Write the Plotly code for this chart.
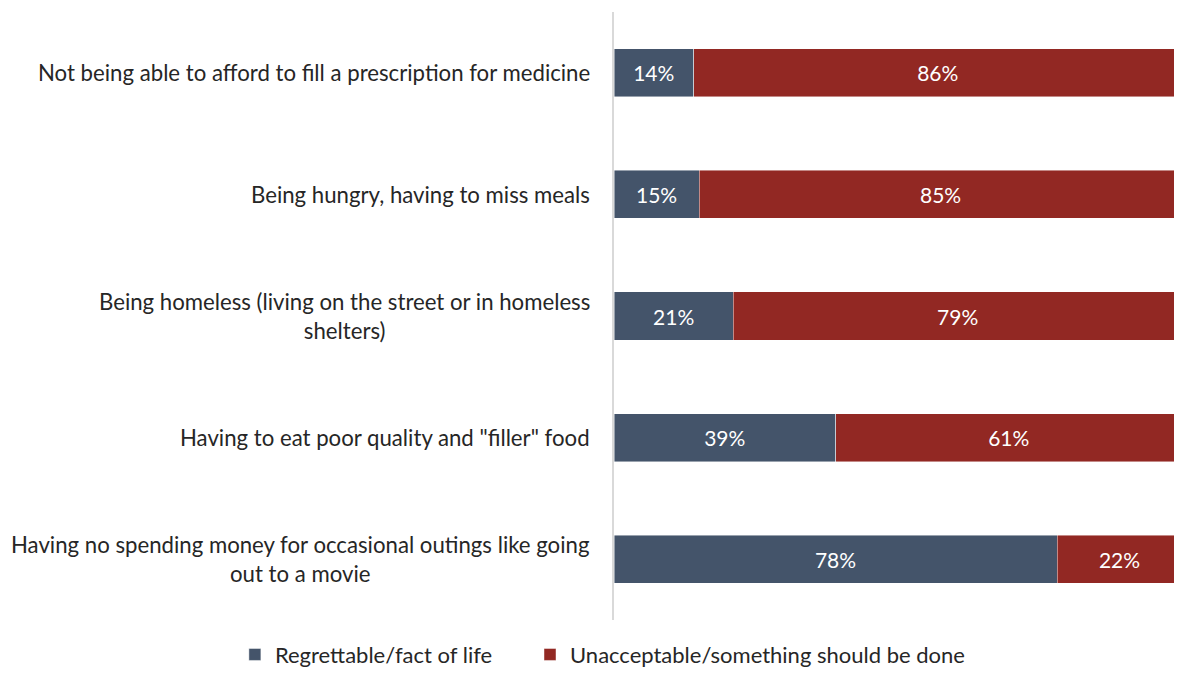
import plotly.graph_objects as go

categories = [
    "Not being able to afford to fill a prescription for medicine",
    "Being hungry, having to miss meals",
    "Being homeless (living on the street or in homeless<br>shelters)",
    "Having to eat poor quality and \"filler\" food",
    "Having no spending money for occasional outings like going<br>out to a movie",
]
regrettable = [14, 15, 21, 39, 78]
unacceptable = [86, 85, 79, 61, 22]
series_names = ["Regrettable/fact of life", "Unacceptable/something should be done"]
colors = ["#44546A", "#922823"]

FONT = "Lato"
TXT = "#262626"

fig = go.Figure()
for i, (name, vals, col) in enumerate(zip(series_names, [regrettable, unacceptable], colors)):
    fig.add_trace(go.Bar(
        y=categories, x=vals, name=name, orientation="h",
        marker=dict(color=col, line=dict(color="rgba(255,255,255,0.6)", width=0.75)),
        width=0.395,
        text=[f"{v}%" for v in vals], textposition="inside",
        insidetextanchor="middle", constraintext="none",
        textfont=dict(color="white", size=21, family=FONT),
        hoverinfo="skip",
        legend="legend" if i == 0 else "legend2",
    ))

for c in categories:
    fig.add_annotation(
        text=c, xref="paper", yref="y", x=0, y=c, xanchor="right", yanchor="middle",
        xshift=-22, align="center", showarrow=False,
        font=dict(family=FONT, size=22.2, color=TXT),
    )

legend_common = dict(orientation="h", xref="paper", yref="paper", y=-0.057,
                     xanchor="left", yanchor="middle", itemwidth=30,
                     font=dict(family=FONT, size=22, color=TXT))

fig.update_layout(
    width=1166, height=667, barmode="stack",
    margin=dict(l=606, r=0, t=4, b=55, autoexpand=False),
    plot_bgcolor="white", paper_bgcolor="white",
    font=dict(family=FONT, color=TXT, size=22),
    xaxis=dict(range=[0, 98.6], visible=False, fixedrange=True),
    yaxis=dict(categoryorder="array", categoryarray=categories, autorange="reversed",
               showticklabels=False, ticks="", showgrid=False, zeroline=False,
               showline=True, linecolor="#d9d9d9", linewidth=2),
    bargap=0.6,
    legend=dict(x=-0.677, **legend_common),
    legend2=dict(x=-0.15, **legend_common),
    showlegend=True,
)

fig.write_html("out.html")
